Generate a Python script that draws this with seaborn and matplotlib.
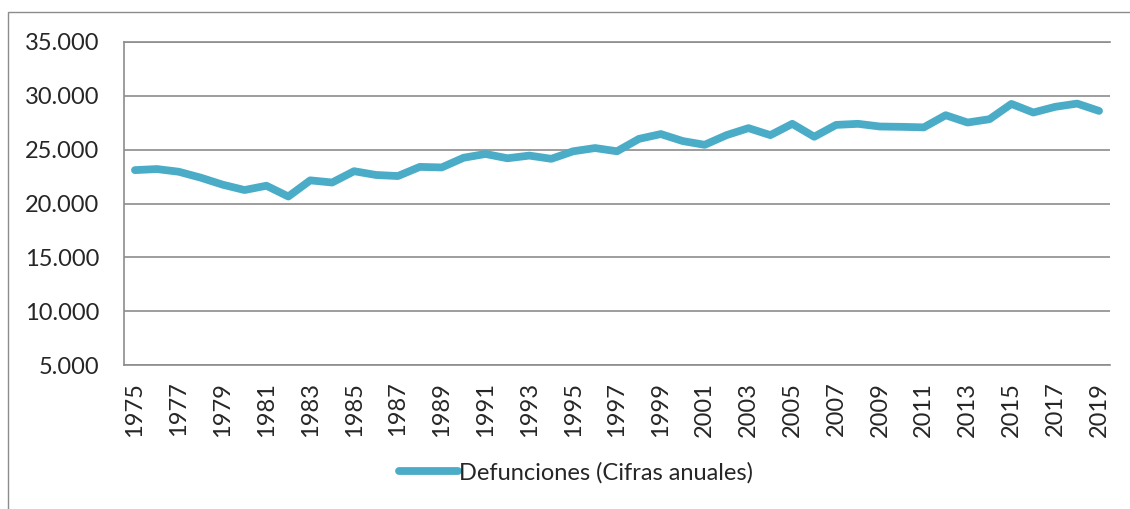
#!/usr/bin/env python3
"""Defunciones anuales 1975-2019, line chart in the Excel look."""
import matplotlib
matplotlib.use("Agg")
import matplotlib.pyplot as plt
from matplotlib.patches import Rectangle
from matplotlib.ticker import FuncFormatter
import pandas as pd
import seaborn as sns

years = list(range(1975, 2020))
deaths = [
    23100, 23200, 22950, 22400, 21750, 21250, 21650, 20650, 22150, 21950,
    23000, 22650, 22550, 23400, 23350, 24250, 24600, 24200, 24450, 24150,
    24850, 25150, 24850, 26000, 26450, 25800, 25450, 26350, 27000, 26350,
    27400, 26200, 27300, 27400, 27150, 27120, 27070, 28200, 27520, 27830,
    29250, 28450, 28980, 29280, 28600,
]
series_label = "Defunciones (Cifras anuales)"
y_ticks = [5000, 10000, 15000, 20000, 25000, 30000, 35000]

LINE_COLOR = "#4AACC6"
GRID_COLOR = "#8C8C8C"
FS = 17

sns.set_style("white")
plt.rcParams["font.family"] = ["Lato", "DejaVu Sans"]
plt.rcParams["font.size"] = FS

df = pd.DataFrame({"year": years, "deaths": deaths})

fig = plt.figure(figsize=(11.3, 5.09), dpi=100)
ax = fig.add_axes([124 / 1130, 1 - 365 / 509, (1110 - 124) / 1130, (365 - 42) / 509])

sns.lineplot(data=df, x="year", y="deaths", ax=ax, color=LINE_COLOR, linewidth=5.6,
             label=series_label, solid_capstyle="round", solid_joinstyle="round")

ax.set_xlim(1974.5, 2019.5)
ax.set_ylim(y_ticks[0], y_ticks[-1])
ax.set_yticks(y_ticks)
ax.set_xticks(years[::2])
ax.yaxis.set_major_formatter(FuncFormatter(lambda v, _: f"{v:,.0f}".replace(",", ".")))
ax.tick_params(axis="x", labelrotation=90, length=0, pad=12, labelsize=FS)
ax.tick_params(axis="y", length=0, pad=18, labelsize=FS)
ax.set_xlabel("")
ax.set_ylabel("")

ax.grid(axis="y", color=GRID_COLOR, linewidth=1.2)
ax.set_axisbelow(True)
for side in ["left", "top", "bottom"]:
    ax.spines[side].set_color(GRID_COLOR)
    ax.spines[side].set_linewidth(1.2)
ax.spines["right"].set_visible(False)

ax.get_legend().remove()
handles, labels = ax.get_legend_handles_labels()
fig.legend(handles, labels, loc="center", bbox_to_anchor=(0.51, 0.071), frameon=False,
           handlelength=2.5, handletextpad=0.05, fontsize=FS)

# chart area border (cropped at right and bottom in the original)
fig.patches.append(Rectangle((8 / 1130, -0.1), 1.2, 1.1 - 12 / 509, transform=fig.transFigure,
                             fill=False, edgecolor=GRID_COLOR, linewidth=1.0))

fig.savefig("out.png", dpi=100)
